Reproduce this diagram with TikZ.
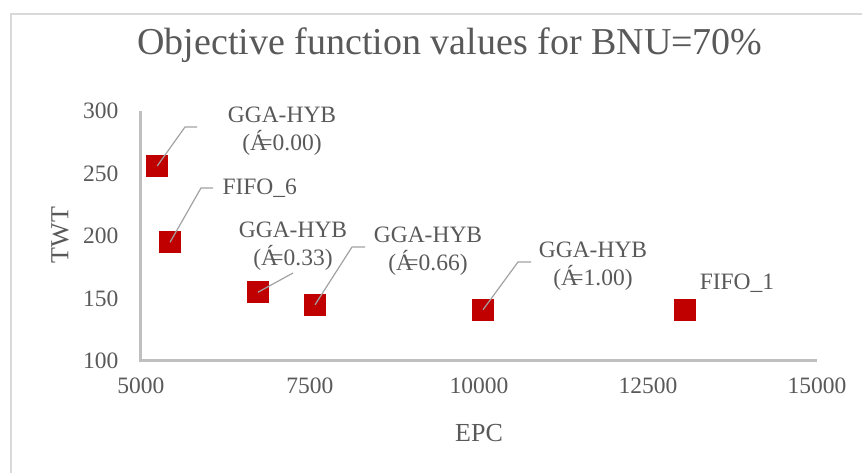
\documentclass[tikz,border=0pt]{standalone}
\usepackage{fontspec}
\setmainfont{Liberation Serif}
\definecolor{txtgray}{RGB}{89,89,89}
\definecolor{axgray}{RGB}{191,191,191}
\definecolor{framegray}{RGB}{217,217,217}
\definecolor{ptred}{RGB}{192,0,0}
\begin{document}
\begin{tikzpicture}[x=1pt, y=1pt,
  pt/.style={fill=ptred, inner sep=0pt, minimum size=22pt},
  lbl/.style={text=txtgray, align=center, font=\fontsize{23.5}{28}\selectfont},
  tick/.style={text=txtgray, font=\fontsize{23.5}{26}\selectfont},
  leader/.style={axgray!85!black, line width=1.2pt}]
\useasboundingbox (0,0) rectangle (862,473);
\draw[framegray, line width=2pt] (11,-5) -- (11,459) -- (870,459);
\node[text=txtgray, font=\fontsize{38}{42}\selectfont] (title) at (450,428) {Objective function values for BNU=70\%};
\node[text=txtgray, font=\fontsize{26}{30}\selectfont] (xlab) at (479,40) {EPC};
\node[text=txtgray, font=\fontsize{26}{30}\selectfont, rotate=90] (ylab) at (60,238) {TWT};
\begin{scope}[shift={(-197pt,-13pt)}, x=0.0676pt, y=1.25pt]
\draw[axgray, line width=3pt] (5000,300) -- (5000,100) -- (15000,100);
\foreach \t in {100,150,200,250,300}
  \node[tick, anchor=east] at ([xshift=-19pt]5000,\t) {\t};
\foreach \e in {5000,7500,10000,12500,15000}
  \node[tick, anchor=north] at ([yshift=-13pt]\e,100) {\e};
% data points
\node[pt] (h00) at (5240,256) {};
\node[pt] (f6) at (5430,195) {};
\node[pt] (h33) at (6730,155) {};
\node[pt] (h66) at (7575,145) {};
\node[pt] (h100) at (10060,141) {};
\node[pt] (f1) at (13050,141) {};
\end{scope}
% labels
\node[lbl] (lh00) at (282,342) {GGA-HYB\\(Á\kern-0.33em=0.00)};
\node[lbl, anchor=west] (lf6) at (219,285) {FIFO\_6};
\node[lbl] (lh33) at (293,227) {GGA-HYB\\(Á\kern-0.33em=0.33)};
\node[lbl] (lh66) at (428,222) {GGA-HYB\\(Á\kern-0.33em=0.66)};
\node[lbl] (lh100) at (593,207) {GGA-HYB\\(Á\kern-0.33em=1.00)};
\node[lbl] (lf1) at (737,190) {FIFO\_1};
% leader lines
\coordinate (b00) at (185,346);
\coordinate (e00) at (197,346);
\coordinate (bf6) at (201,285);
\coordinate (ef6) at (213,285);
\coordinate (e33) at (293,200);
\coordinate (b66) at (352,226);
\coordinate (e66) at (365,226);
\coordinate (b100) at (518,211);
\coordinate (e100) at (531,211);
\draw[leader] (h00.center) -- (b00) -- (e00);
\draw[leader] (f6.center) -- (bf6) -- (ef6);
\draw[leader] (h33.center) -- (e33);
\draw[leader] (h66.center) -- (b66) -- (e66);
\draw[leader] (h100.center) -- (b100) -- (e100);
\end{tikzpicture}
\end{document}
